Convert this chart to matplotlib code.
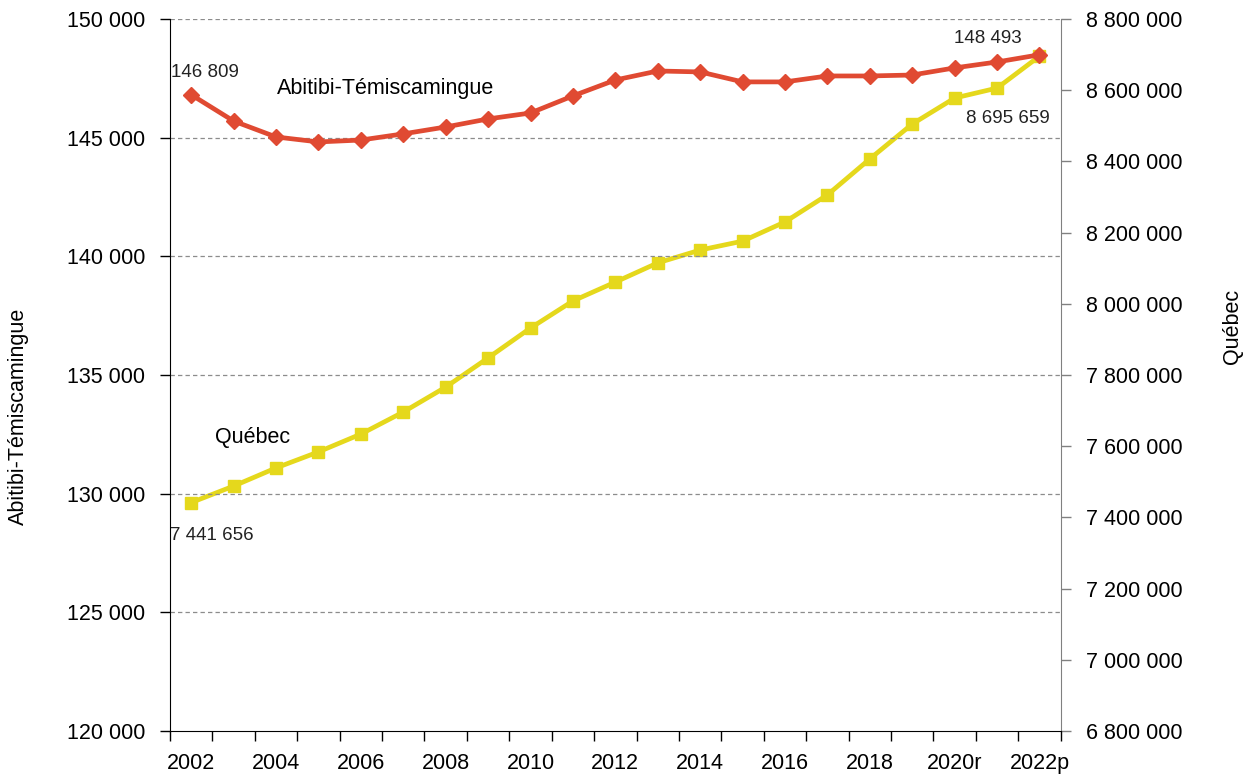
import matplotlib
matplotlib.use("Agg")
import matplotlib.pyplot as plt
from matplotlib.ticker import FuncFormatter, FixedLocator
import numpy as np

plt.rcParams['font.family'] = ['Liberation Sans', 'DejaVu Sans']

years = ["2002", "2003", "2004", "2005", "2006", "2007", "2008", "2009", "2010",
         "2011", "2012", "2013", "2014", "2015", "2016", "2017", "2018", "2019",
         "2020r", "2021r", "2022p"]
abitibi = [146809, 145700, 145030, 144820, 144900, 145160, 145450, 145790, 146040,
           146760, 147430, 147810, 147770, 147350, 147350, 147600, 147600, 147640,
           147940, 148190, 148493]
quebec = [7441656, 7488000, 7539000, 7584000, 7634000, 7696000, 7766000, 7848000,
          7932000, 8008000, 8061000, 8115000, 8151000, 8176000, 8230000, 8306000,
          8407000, 8505000, 8578000, 8606000, 8695659]
shown_labels = ["2002", "2004", "2006", "2008", "2010", "2012", "2014", "2016",
                "2018", "2020r", "2022p"]

RED = "#E04A32"
YEL = "#E5D81C"

def fmt(v, pos=None):
    return f"{int(round(v)):,}".replace(",", " ")

fig = plt.figure(figsize=(12.51, 7.78), dpi=100)
ax = fig.add_axes([170/1251, 47/778, 890.7/1251, 712/778])
ax2 = ax.twinx()

n = len(years)
x = np.arange(n) + 0.5

ax.set_xlim(0, n)
ax.set_ylim(120000, 150000)
ax2.set_ylim(6800000, 8800000)

# gridlines (left axis)
ax.set_yticks(np.arange(120000, 150001, 5000))
ax.yaxis.set_major_formatter(FuncFormatter(fmt))
for yv in np.arange(125000, 150001, 5000):
    ax.axhline(yv, color="#8c8c8c", lw=0.9, ls=(0, (3.5, 2.5)), zorder=0)

ax2.set_yticks(np.arange(6800000, 8800001, 200000))
ax2.yaxis.set_major_formatter(FuncFormatter(fmt))

# x axis: ticks at category boundaries, labels at centers
ax.xaxis.set_major_locator(FixedLocator(np.arange(0, n + 1)))
ax.xaxis.set_major_formatter(FuncFormatter(lambda v, p: ""))
label_pos = [x[years.index(l)] for l in shown_labels]
ax.xaxis.set_minor_locator(FixedLocator(label_pos))
ax.set_xticklabels(shown_labels, minor=True)
ax.tick_params(axis="x", which="major", length=7, width=1, color="black", direction="out")
ax.tick_params(axis="x", which="minor", length=0, pad=16, labelsize=15.5)

ax.tick_params(axis="y", length=7, width=1, color="black", direction="out", pad=11, labelsize=15.5)
ax2.tick_params(axis="y", length=7, width=1, color="#808080", direction="out", pad=11, labelsize=15.5)

for a in (ax, ax2):
    a.spines["top"].set_visible(False)
ax.spines["left"].set_color("black")
ax.spines["bottom"].set_color("black")
ax.spines["right"].set_visible(False)
ax2.spines["left"].set_visible(False)
ax2.spines["bottom"].set_visible(False)
ax2.spines["right"].set_color("#808080")

# lines
ax2.plot(x, quebec, color=YEL, lw=3.4, marker="s", markersize=9, zorder=3)
ax.plot(x, abitibi, color=RED, lw=3.4, marker="D", markersize=8, zorder=4)
ax.set_zorder(ax2.get_zorder() + 1)
ax.patch.set_visible(False)

ax.annotate(fmt(abitibi[0]), (x[0], abitibi[0]), xytext=(14, 22), textcoords="offset pixels",
            ha="center", va="center", fontsize=13.5, color="#222222")
ax.annotate(fmt(abitibi[-1]), (x[-1], abitibi[-1]), xytext=(-52, 16), textcoords="offset pixels",
            ha="center", va="center", fontsize=13.5, color="#222222")
ax2.annotate(fmt(quebec[-1]), (x[-1], quebec[-1]), xytext=(-32, -62), textcoords="offset pixels",
             ha="center", va="center", fontsize=13.5, color="#222222")
ax2.annotate(fmt(quebec[0]), (x[0], quebec[0]), xytext=(21, -33), textcoords="offset pixels",
             ha="center", va="center", fontsize=13.5, color="#222222")

ax.text(0.2425, 0.9017, "Abitibi-Témiscamingue", transform=ax.transAxes,
        ha="center", va="center", fontsize=15.5, color="black")
ax.text(0.0932, 0.4129, "Québec", transform=ax.transAxes,
        ha="center", va="center", fontsize=15.5, color="black")

fig.text(18/1251, 1 - 416/778, "Abitibi-Témiscamingue", rotation=90,
         ha="center", va="center", fontsize=15.5)
fig.text(1233/1251, 1 - 326/778, "Québec", rotation=90,
         ha="center", va="center", fontsize=15.5)

fig.savefig("out.png", dpi=100)
